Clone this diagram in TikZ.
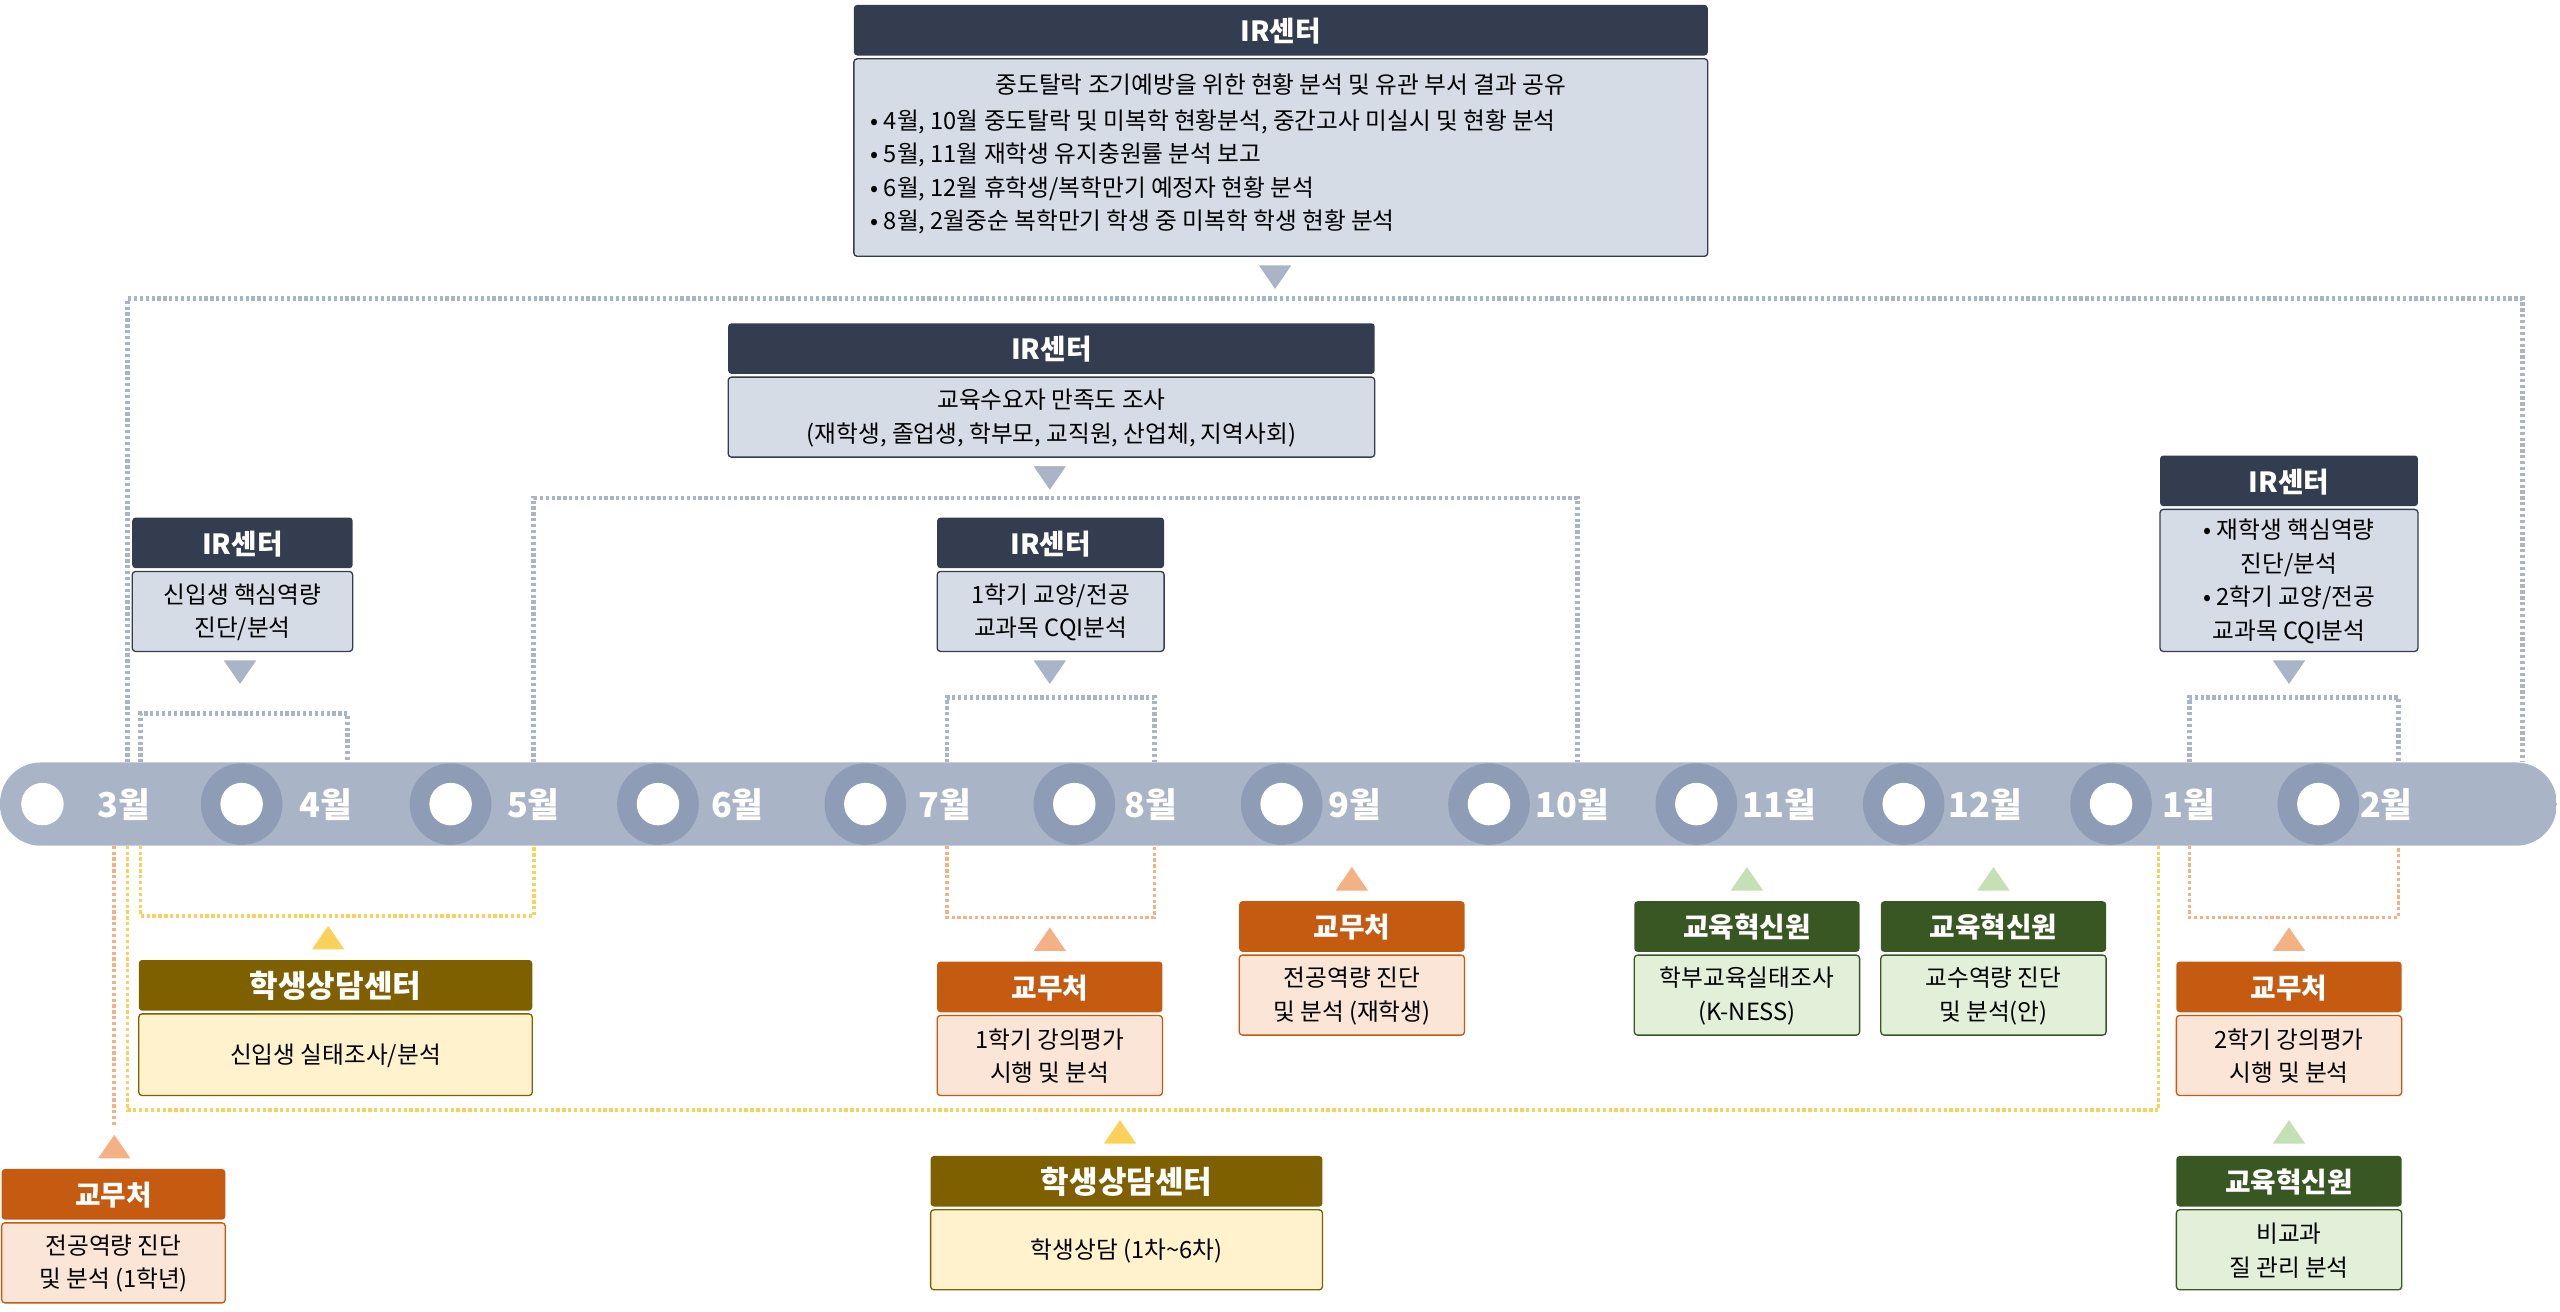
\documentclass[tikz,border=0pt]{standalone}
\usepackage{fontspec}
\setmainfont{Noto Sans CJK KR}
\begin{document}
\begin{tikzpicture}[x=1pt,y=-1pt,
  gdot/.style={draw=barc,line width=3,dash pattern=on 2pt off 1.6pt},
  ydot/.style={draw=yelc,line width=2.2,dash pattern=on 2pt off 1.6pt},
  sdot/.style={draw=salc,line width=2.2,dash pattern=on 2pt off 1.6pt},
  htxt/.style={text=white,font=\bfseries\fontsize{17}{20}\selectfont},
  btxt/.style={text=black,font=\fontsize{14.5}{20.5}\selectfont,align=center},
  mtxt/.style={text=white,font=\bfseries\fontsize{21}{24}\selectfont,anchor=west}]
\definecolor{hdc}{HTML}{333D4F}
\definecolor{irb}{HTML}{D5DCE6}
\definecolor{barc}{HTML}{A9B4C6}
\definecolor{ringc}{HTML}{8E9DB5}
\definecolor{yelc}{HTML}{FAD25A}
\definecolor{salc}{HTML}{F4B183}
\definecolor{grnt}{HTML}{C5E0B4}
\definecolor{olv}{HTML}{7F6000}
\definecolor{olvb}{HTML}{FFF2CC}
\definecolor{org}{HTML}{C55A11}
\definecolor{orgb}{HTML}{FBE5D6}
\definecolor{grn}{HTML}{385723}
\definecolor{grnb}{HTML}{E2F0D9}
\useasboundingbox (0,0) rectangle (1568,803);
% box macro: name, x1, x2, ytop, ybot, headcolor, bodycolor, title, body
\newcommand\ebox[9]{%
  \fill[#6,rounded corners=2] (#2,#4) rectangle (#3,#4+31);
  \node[htxt] (#1h) at ({(#2+#3)/2},{#4+16}) {#8};
  \filldraw[fill=#7,draw=#6,line width=0.8,rounded corners=2] (#2,#4+33) rectangle (#3,#5);
  \node[btxt] (#1) at ({(#2+#3)/2},{(#4+32+#5)/2+1}) {#9};}
\newcommand\tdown[3]{\filldraw[draw=white,line width=1,fill=#3] (#1-11,#2-8)--(#1+11,#2-8)--(#1,#2+8)--cycle;}
\newcommand\tup[3]{\filldraw[draw=white,line width=1,fill=#3] (#1-11,#2+8)--(#1+11,#2+8)--(#1,#2-8)--cycle;}

% ---------- dotted connectors above bar ----------
\coordinate (a1) at (78,467); \coordinate (a2) at (78,183);
\coordinate (a3) at (1545,183); \coordinate (a4) at (1545,467);
\draw[gdot] (a1)--(a2)--(a3)--(a4);
\coordinate (b1) at (327,467); \coordinate (b2) at (327,305);
\coordinate (b3) at (966,305); \coordinate (b4) at (966,467);
\draw[gdot] (b1)--(b2)--(b3)--(b4);
\coordinate (c1) at (86,467); \coordinate (c2) at (86,437);
\coordinate (c3) at (213,437); \coordinate (c4) at (213,467);
\draw[gdot] (c1)--(c2)--(c3)--(c4);
\coordinate (d1) at (580,467); \coordinate (d2) at (580,427);
\coordinate (d3) at (707,427); \coordinate (d4) at (707,467);
\draw[gdot] (d1)--(d2)--(d3)--(d4);
\coordinate (e1) at (1341,467); \coordinate (e2) at (1341,427);
\coordinate (e3) at (1469,427); \coordinate (e4) at (1469,467);
\draw[gdot] (e1)--(e2)--(e3)--(e4);

% ---------- dotted connectors below bar ----------
\coordinate (f1) at (70,518); \coordinate (f2) at (70,690);
\draw[sdot] (f1)--(f2);
\coordinate (g1) at (78,518); \coordinate (g2) at (78,680);
\coordinate (g3) at (1322,680); \coordinate (g4) at (1322,518);
\draw[ydot] (g1)--(g2)--(g3)--(g4);
\coordinate (h1) at (86,518); \coordinate (h2) at (86,561);
\coordinate (h3) at (327,561); \coordinate (h4) at (327,518);
\draw[ydot] (h1)--(h2)--(h3)--(h4);
\coordinate (i1) at (580,518); \coordinate (i2) at (580,562);
\coordinate (i3) at (707,562); \coordinate (i4) at (707,518);
\draw[sdot] (i1)--(i2)--(i3)--(i4);
\coordinate (j1) at (1341,518); \coordinate (j2) at (1341,562);
\coordinate (j3) at (1469,562); \coordinate (j4) at (1469,518);
\draw[sdot] (j1)--(j2)--(j3)--(j4);

% ---------- timeline bar ----------
\begin{scope}
\path[clip,rounded corners=25] (0,467) rectangle (1566,518);
\fill[barc] (0,467) rectangle (1566,518);
\foreach \x in {148,276,403,530,658,785,912,1039,1166,1293,1420}
  \fill[ringc] (\x,492.5) circle (25);
\end{scope}
\foreach \x/\n in {26/m3,148/m4,276/m5,403/m6,530/m7,658/m8,785/m9,912/m10,1039/m11,1166/m12,1293/m1,1420/m2}
  \fill[white] (\x,492.5) circle (13) coordinate (\n);
\node[mtxt] (l3) at (56,493) {3월};
\node[mtxt] (l4) at (180,493) {4월};
\node[mtxt] (l5) at (307,493) {5월};
\node[mtxt] (l6) at (432,493) {6월};
\node[mtxt] (l7) at (559,493) {7월};
\node[mtxt] (l8) at (685,493) {8월};
\node[mtxt] (l9) at (810,493) {9월};
\node[mtxt] (l10) at (937,493) {10월};
\node[mtxt] (l11) at (1064,493) {11월};
\node[mtxt] (l12) at (1190,493) {12월};
\node[mtxt] (l1) at (1321,493) {1월};
\node[mtxt] (l2) at (1442,493) {2월};

% ---------- IR boxes ----------
\ebox{ir1}{523}{1046}{3}{157}{hdc}{irb}{IR센터}{\phantom{x}}
\node[text=black,font=\fontsize{14.5}{20.5}\selectfont] (ir1t) at (784.5,52) {중도탈락 조기예방을 위한 현황 분석 및 유관 부서 결과 공유};
\node[text=black,font=\fontsize{14.5}{20.5}\selectfont,anchor=north west,align=left,inner sep=0] (ir1b) at (533,67)
 {• 4월, 10월 중도탈락 및 미복학 현황분석, 중간고사 미실시 및 현황 분석\\
  • 5월, 11월 재학생 유지충원률 분석 보고\\
  • 6월, 12월 휴학생/복학만기 예정자 현황 분석\\
  • 8월, 2월중순 복학만기 학생 중 미복학 학생 현황 분석};
\tdown{781}{170}{barc}
\ebox{ir2}{446}{842}{198}{280}{hdc}{irb}{IR센터}{교육수요자 만족도 조사\\(재학생, 졸업생, 학부모, 교직원, 산업체, 지역사회)}
\tdown{643}{293}{barc}
\ebox{ir3}{81}{216}{317}{399}{hdc}{irb}{IR센터}{신입생 핵심역량\\진단/분석}
\tdown{147}{412}{barc}
\ebox{ir4}{574}{713}{317}{399}{hdc}{irb}{IR센터}{1학기 교양/전공\\교과목 CQI분석}
\tdown{643}{412}{barc}
\ebox{ir5}{1323}{1481}{279}{399}{hdc}{irb}{IR센터}{• 재학생 핵심역량\\진단/분석\\• 2학기 교양/전공\\교과목 CQI분석}
\tdown{1402}{412}{barc}

% ---------- lower boxes ----------
\tup{201}{574}{yelc}
\ebox{sc1}{85}{326}{588}{671}{olv}{olvb}{\fontsize{19}{22}\selectfont 학생상담센터}{신입생 실태조사/분석}
\tup{70}{702}{salc}
\ebox{gm1}{1}{138}{716}{798}{org}{orgb}{교무처}{전공역량 진단\\및 분석 (1학년)}
\tup{686}{693}{yelc}
\ebox{sc2}{570}{810}{708}{790}{olv}{olvb}{\fontsize{19}{22}\selectfont 학생상담센터}{학생상담 (1차\textasciitilde 6차)}
\tup{643}{575}{salc}
\ebox{gm2}{574}{712}{589}{671}{org}{orgb}{교무처}{1학기 강의평가\\시행 및 분석}
\tup{828}{538}{salc}
\ebox{gm3}{759}{897}{552}{634}{org}{orgb}{교무처}{전공역량 진단\\및 분석 (재학생)}
\tup{1070}{538}{grnt}
\ebox{gh1}{1001}{1139}{552}{634}{grn}{grnb}{교육혁신원}{학부교육실태조사\\(K-NESS)}
\tup{1221}{538}{grnt}
\ebox{gh2}{1152}{1290}{552}{634}{grn}{grnb}{교육혁신원}{교수역량 진단\\및 분석(안)}
\tup{1402}{575}{salc}
\ebox{gm4}{1333}{1471}{589}{671}{org}{orgb}{교무처}{2학기 강의평가\\시행 및 분석}
\tup{1402}{693}{grnt}
\ebox{gh3}{1333}{1471}{708}{790}{grn}{grnb}{교육혁신원}{비교과\\질 관리 분석}
\end{tikzpicture}
\end{document}
